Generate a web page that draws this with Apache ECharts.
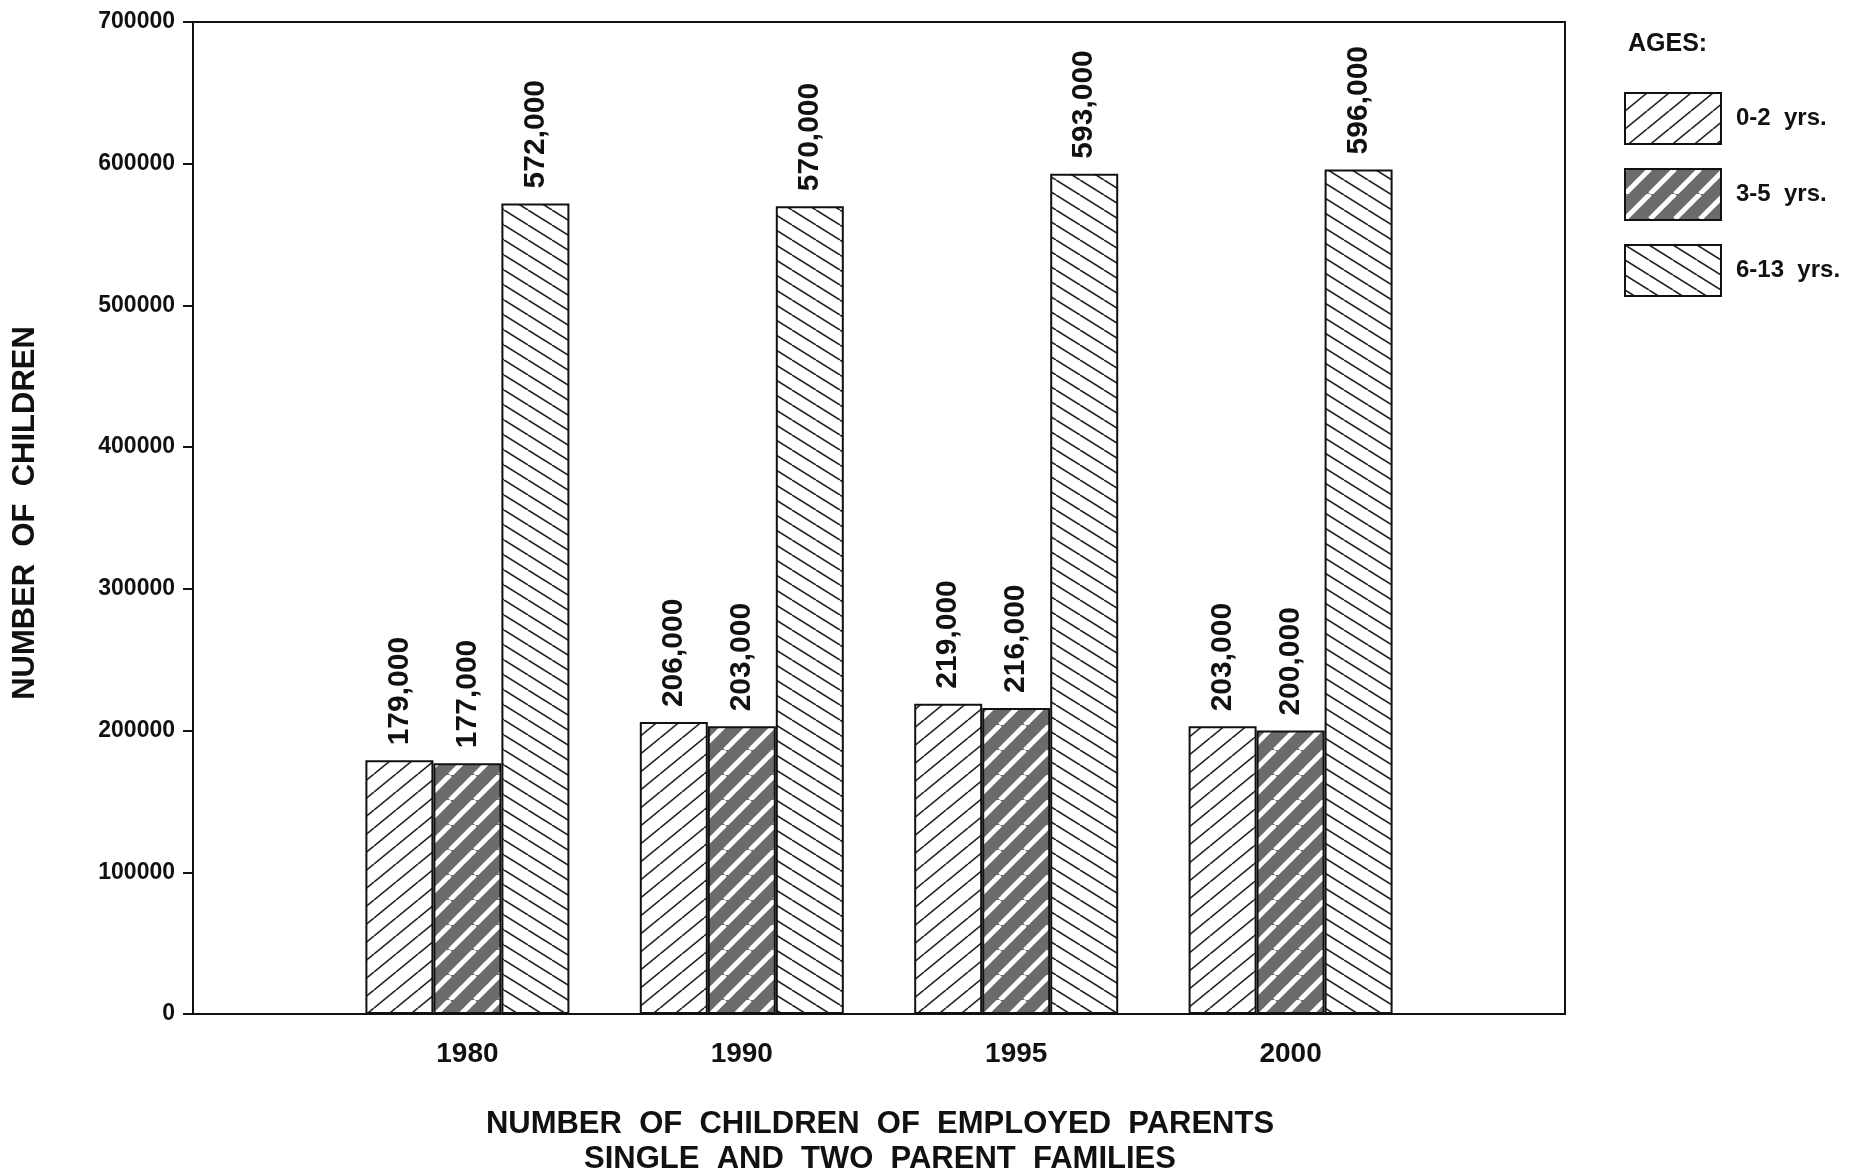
<!DOCTYPE html>
<html>
<head>
<meta charset="utf-8">
<script src="https://cdn.jsdelivr.net/npm/echarts@6/dist/echarts.min.js"></script>
<style>
  html, body { margin: 0; padding: 0; background: #fff; }
  #chart { width: 1860px; height: 1176px; }
</style>
</head>
<body>
<div id="chart"></div>
<script>
// categories padded with empty slots so the groups sit at 1/5 .. 4/5 of the width
var years = ['', '1980', '1990', '1995', '2000', ''];
var ages02 = [null, 179000, 206000, 219000, 203000, null];
var ages35 = [null, 177000, 203000, 216000, 200000, null];
var ages613 = [null, 572000, 570000, 593000, 596000, null];
var seriesNames = ['0-2  yrs.', '3-5  yrs.', '6-13  yrs.'];

var FONT = 'Liberation Sans, Arial, sans-serif';

// hatch tile: dir '/' or '\\'
function hatch(bg, lineColor, lineWidth, w, h, dir) {
  var c = document.createElement('canvas');
  c.width = w; c.height = h;
  var ctx = c.getContext('2d');
  ctx.fillStyle = bg;
  ctx.fillRect(0, 0, w, h);
  ctx.strokeStyle = lineColor;
  ctx.lineWidth = lineWidth;
  for (var k = -1; k <= 1; k++) {
    ctx.beginPath();
    if (dir === '/') {
      ctx.moveTo(k * w, h);
      ctx.lineTo(k * w + w, 0);
    } else {
      ctx.moveTo(k * w, 0);
      ctx.lineTo(k * w + w, h);
    }
    ctx.stroke();
  }
  return { image: c, repeat: 'repeat' };
}

var fill02 = hatch('#ffffff', '#222222', 1.6, 22, 18, '/');
var fill35 = hatch('#6b6b6b', '#ffffff', 5, 25, 25, '/');
var fill613 = hatch('#ffffff', '#222222', 1.6, 24, 15, '\\');

function fmt(p) {
  return p.value.toLocaleString('en-US');
}

var chart = echarts.init(document.getElementById('chart'));

function barSeries(name, data, fill) {
  return {
    name: name,
    type: 'bar',
    data: data,
    barWidth: 68,
    barGap: '0%',
    itemStyle: { color: fill, borderColor: '#111', borderWidth: 2 },
    label: {
      show: true,
      position: 'top',
      rotate: 90,
      align: 'left',
      verticalAlign: 'middle',
      distance: 15,
      formatter: fmt,
      color: '#111',
      fontFamily: FONT,
      fontWeight: 'bold',
      fontSize: 30
    }
  };
}

var option = {
  animation: false,
  backgroundColor: '#fff',
  grid: {
    left: 193, right: 295, top: 22, bottom: 162,
    show: true, borderColor: '#111', borderWidth: 2
  },
  legend: {
    orient: 'vertical',
    left: 1619,
    top: 87,
    itemWidth: 96,
    itemHeight: 51,
    itemGap: 23,
    icon: 'rect',
    itemStyle: { borderColor: '#111', borderWidth: 2 },
    textStyle: {
      color: '#111', fontFamily: FONT, fontWeight: 'bold', fontSize: 24,
      padding: [0, 0, 0, 10]
    },
    data: seriesNames
  },
  xAxis: {
    type: 'category',
    data: years,
    boundaryGap: false,
    axisLine: { lineStyle: { color: '#111', width: 2 } },
    axisTick: { show: false },
    axisLabel: {
      color: '#111', fontFamily: FONT, fontWeight: 'bold', fontSize: 28,
      margin: 26
    },
    splitLine: { show: false }
  },
  yAxis: {
    type: 'value',
    min: 0,
    max: 700000,
    interval: 100000,
    axisLine: { show: true, lineStyle: { color: '#111', width: 2 } },
    axisTick: { show: true, length: 10, lineStyle: { color: '#111', width: 2 } },
    axisLabel: {
      color: '#111', fontFamily: FONT, fontWeight: 'bold', fontSize: 23,
      margin: 18,
      formatter: function (v) { return String(v); }
    },
    splitLine: { show: false }
  },
  graphic: [
    {
      type: 'text', x: 1628, y: 44,
      style: { text: 'AGES:', fill: '#111', font: 'bold 25px ' + FONT, verticalAlign: 'middle' }
    },
    {
      type: 'text', x: 25, y: 513, rotation: Math.PI / 2,
      style: {
        text: 'NUMBER  OF  CHILDREN', fill: '#111', font: 'bold 31px ' + FONT,
        align: 'center', verticalAlign: 'middle'
      }
    },
    {
      type: 'text', x: 880, y: 1124,
      style: {
        text: 'NUMBER  OF  CHILDREN  OF  EMPLOYED  PARENTS', fill: '#111',
        font: 'bold 31px ' + FONT, align: 'center', verticalAlign: 'middle'
      }
    },
    {
      type: 'text', x: 880, y: 1159,
      style: {
        text: 'SINGLE  AND  TWO  PARENT  FAMILIES', fill: '#111',
        font: 'bold 31px ' + FONT, align: 'center', verticalAlign: 'middle'
      }
    }
  ],
  series: [
    barSeries(seriesNames[0], ages02, fill02),
    barSeries(seriesNames[1], ages35, fill35),
    barSeries(seriesNames[2], ages613, fill613)
  ]
};

chart.setOption(option);
</script>
</body>
</html>
